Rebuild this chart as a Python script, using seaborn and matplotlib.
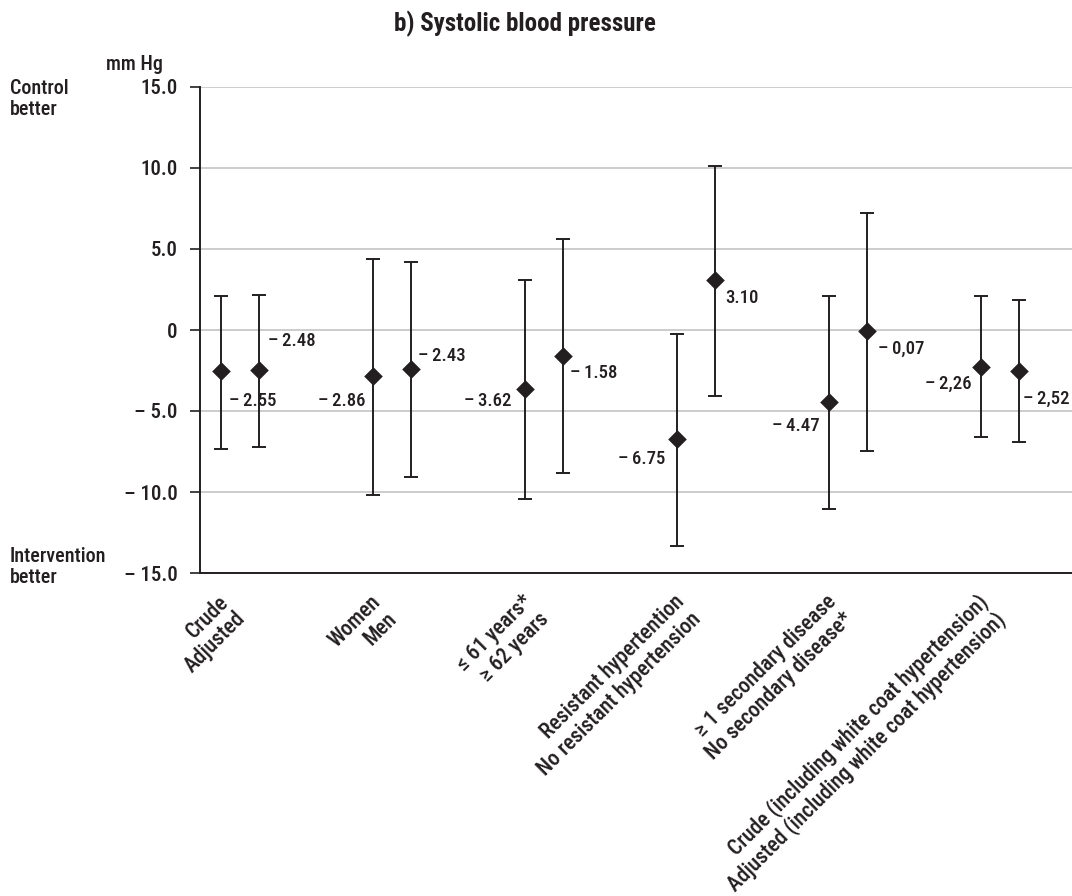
import matplotlib
matplotlib.use("Agg")
import matplotlib.pyplot as plt
from matplotlib import font_manager
import seaborn as sns
import pandas as pd

# data (mm Hg, difference with 95% CI)
subgroups = ["Crude", "Adjusted", "Women", "Men", "≤ 61 years*", "≥ 62 years",
             "Resistant hypertention", "No resistant hypertension",
             "≥ 1 secondary disease", "No secondary disease*",
             "Crude (including white coat hypertension)",
             "Adjusted (including white coat hypertension)"]
mean = [-2.55, -2.48, -2.86, -2.43, -3.62, -1.58, -6.75, 3.10, -4.47, -0.07, -2.26, -2.52]
lower = [-7.33, -7.25, -10.19, -9.09, -10.43, -8.85, -13.35, -4.10, -11.08, -7.45, -6.60, -6.93]
upper = [2.12, 2.15, 4.39, 4.17, 3.07, 5.61, -0.22, 10.12, 2.09, 7.24, 2.09, 1.83]
value_labels = ["\u2013\u20092.55", "\u2013\u20092.48", "\u2013\u20092.86", "\u2013\u20092.43",
                "\u2013\u20093.62", "\u2013\u20091.58", "\u2013\u20096.75", "3.10",
                "\u2013\u20094.47", "\u2013\u20090,07", "\u2013\u20092,26", "\u2013\u20092,52"]
y_ticks = [15, 10, 5, 0, -5, -10, -15]
y_tick_labels = ["15.0", "10.0", "5.0", "0", "\u2013 5.0", "\u2013 10.0", "\u2013 15.0"]

# label placement (pixels right, pixels down, alignment)
label_offsets = [(8, 30, "left"), (9, -29, "left"), (-8, 25, "right"), (7, -13, "left"),
                 (-14, 12, "right"), (7, 17, "left"), (-12, 20, "right"), (10, 18, "left"),
                 (-10, 24, "right"), (11, 18, "left"), (-10, 17, "right"), (4, 28, "left")]

sns.set_theme(style="white")
names = {f.name for f in font_manager.fontManager.ttflist}
family = "DejaVu Sans"
for cand in ["Liberation Sans Narrow", "DejaVu Sans Condensed", "Roboto Condensed", "Liberation Sans"]:
    if cand in names:
        family = cand
        break
plt.rcParams["font.family"] = [family, "DejaVu Sans"]
plt.rcParams["font.weight"] = "medium"
ink = "#231f20"

df = pd.DataFrame({"subgroup": subgroups, "mean": mean, "lower": lower, "upper": upper})
df["pos"] = [(i // 2) * 4 + i % 2 for i in range(len(df))]

fig = plt.figure(figsize=(10.72, 8.96), dpi=100)
ax = fig.add_axes([200 / 1072, 323 / 896, 1 - 200 / 1072, 486 / 896])

ax.errorbar(df["pos"], df["mean"],
            yerr=[df["mean"] - df["lower"], df["upper"] - df["mean"]],
            fmt="none", ecolor=ink, elinewidth=1.4, capsize=5, capthick=1.4, zorder=3)
sns.scatterplot(data=df, x="pos", y="mean", marker="D", s=90, color=ink,
                edgecolor=ink, linewidth=0, zorder=4, ax=ax, legend=False)

for x, y, txt, (dx, dy, ha) in zip(df["pos"], df["mean"], value_labels, label_offsets):
    ax.annotate(txt, (x, y), xytext=(dx, -dy), textcoords="offset pixels",
                ha=ha, va="center", fontsize=13.5, color=ink)

ax.set_xlim(-0.553, 22.39)
ax.set_ylim(-15, 15)
ax.set_yticks(y_ticks)
ax.set_yticklabels(y_tick_labels, fontsize=15, color=ink)
ax.yaxis.grid(True, color="#c8c8c8", linewidth=1.3)
ax.set_axisbelow(True)

group_pos = df["pos"].iloc[::2].tolist()
group_labels = ["\n".join(subgroups[i:i + 2]) for i in range(0, len(subgroups), 2)]
ax.set_xticks([p - 0.1 for p in group_pos])
ax.set_xticklabels(group_labels, rotation=45, ha="right", va="top",
                   rotation_mode="anchor", fontsize=15.5, color=ink, linespacing=1.1)
ax.tick_params(axis="x", length=0, pad=13)
ax.tick_params(axis="y", length=7, width=1.2, color=ink, pad=9, left=True, direction="out")

sns.despine(ax=ax, top=True, right=True)
ax.spines["left"].set_color(ink)
ax.spines["left"].set_linewidth(1.4)
ax.spines["bottom"].set_color(ink)
ax.spines["bottom"].set_linewidth(1.4)
ax.set_xlabel("")
ax.set_ylabel("")

fig.text(525 / 1072, 1 - 24 / 896, "b) Systolic blood pressure", ha="center", va="center",
         fontsize=18, fontweight="heavy", color=ink)
fig.text(163 / 1072, 1 - 64 / 896, "mm Hg", ha="right", va="center", fontsize=14.5, color=ink)
fig.text(10 / 1072, 1 - 99 / 896, "Control\nbetter", ha="left", va="center",
         fontsize=14.5, color=ink, linespacing=1.1)
fig.text(10 / 1072, 1 - 567 / 896, "Intervention\nbetter", ha="left", va="center",
         fontsize=14.5, color=ink, linespacing=1.1)

fig.savefig("out.png", dpi=100)
